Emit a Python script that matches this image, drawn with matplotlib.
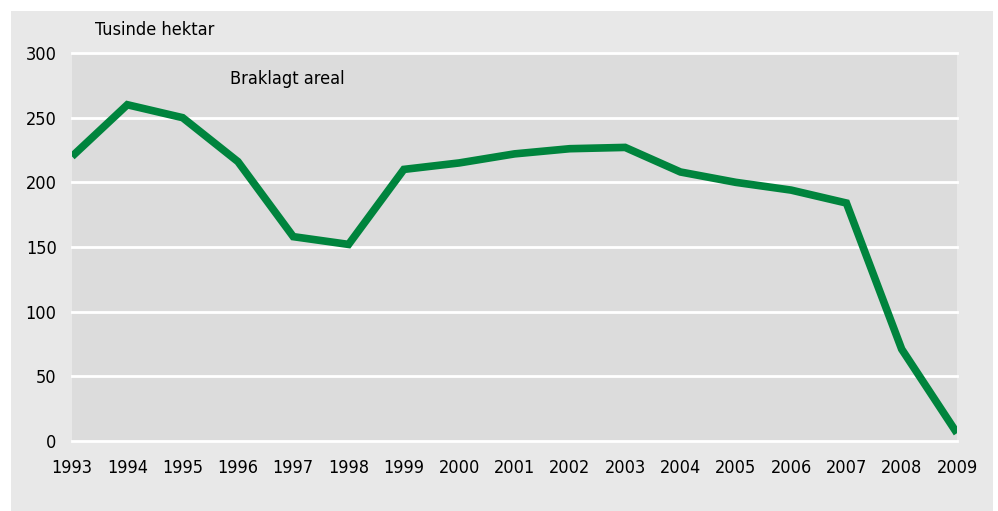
import matplotlib.pyplot as plt
from matplotlib.patches import Rectangle

years = list(range(1993, 2010))
areal = [220, 260, 250, 216, 158, 152, 210, 215, 222, 226, 227, 208, 200, 194, 184, 71, 6]
y_ticks = [0, 50, 100, 150, 200, 250, 300]

green = "#00843d"

plt.rcParams["font.family"] = ["DejaVu Sans"]
plt.rcParams["font.stretch"] = "condensed"

fig = plt.figure(figsize=(9.98, 5.11), dpi=100, facecolor="white")
fig.patches.append(Rectangle((11 / 998, 0), 982 / 998, 500 / 511,
                             transform=fig.transFigure, facecolor="#e8e8e8",
                             edgecolor="none", zorder=-10))

ax = fig.add_axes([72 / 998, 1 - 441 / 511, 885 / 998, 388 / 511])
ax.set_zorder(1)
ax.set_facecolor("#dcdcdc")
ax.plot(years, areal, color=green, linewidth=5.5, solid_joinstyle="miter",
        solid_capstyle="butt", zorder=3)

ax.set_xlim(1993, 2009)
ax.set_ylim(0, 300)
ax.set_yticks(y_ticks)
ax.set_xticks(years)
ax.grid(axis="y", color="white", linewidth=2)
for gl in ax.get_ygridlines():
    gl.set_clip_on(False)
ax.set_axisbelow(True)
for s in ax.spines.values():
    s.set_visible(False)
ax.tick_params(length=0, labelsize=13, colors="black")
ax.tick_params(axis="y", pad=11)
ax.tick_params(axis="x", pad=13)

fig.text(95 / 998, 1 - 30 / 511, "Tusinde hektar", fontsize=13, va="center")
ax.text(1995.86, 280, "Braklagt areal", fontsize=13, va="center")

fig.savefig("out.png", dpi=100, facecolor="white")
